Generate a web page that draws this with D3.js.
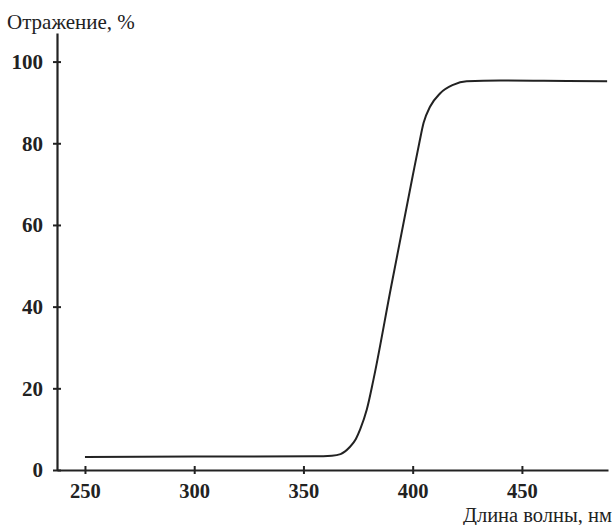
<!DOCTYPE html>
<html><head><meta charset="utf-8">
<script src="https://cdn.jsdelivr.net/npm/d3@7"></script>
<style>body{margin:0;background:#fff}svg{display:block}</style>
</head><body>
<svg id="c" width="614" height="525"></svg>
<script>
const wavelength = [250, 300, 355, 363, 367, 371, 374, 376, 379, 382, 390, 400, 403, 405, 408, 412.5, 418.5, 424.7, 440, 460, 489];
const reflectance = [3.2, 3.3, 3.35, 3.5, 3.9, 5.5, 7.6, 10, 14.8, 22, 44.5, 72, 80, 85, 89, 92.2, 94.3, 95.2, 95.4, 95.3, 95.2];
const xTicks = [250, 300, 350, 400, 450];
const yTicks = [0, 20, 40, 60, 80, 100];
const yTitle = "Отражение, %";
const xTitle = "Длина волны, нм";

const svg = d3.select("#c");
const x = d3.scaleLinear().domain([237.2, 489.4]).range([57, 608]);
const y = d3.scaleLinear().domain([0, 107]).range([470, 33]);
const ink = "#222";

const gx = svg.append("g").attr("transform", `translate(0,${y(0)})`)
  .call(d3.axisBottom(x).tickValues(xTicks).tickSize(4).tickSizeOuter(0).tickPadding(9));
gx.select(".domain").attr("stroke", ink).attr("stroke-width", 2);
gx.selectAll(".tick line").attr("stroke", ink).attr("stroke-width", 2).attr("y1", -4).attr("y2", 4);
gx.selectAll(".tick text").attr("font-family", "Liberation Serif").attr("font-weight", "bold")
  .attr("font-size", 20.5).attr("fill", ink);

const gy = svg.append("g").attr("transform", `translate(${x(237.2)},0)`)
  .call(d3.axisLeft(y).tickValues(yTicks).tickSize(4).tickSizeOuter(0).tickPadding(10));
gy.select(".domain").attr("stroke", ink).attr("stroke-width", 2.2);
gy.selectAll(".tick line").attr("stroke", ink).attr("stroke-width", 2).attr("x1", -4).attr("x2", 4);
gy.selectAll(".tick text").attr("font-family", "Liberation Serif").attr("font-weight", "bold")
  .attr("font-size", 21).attr("fill", ink);

const data = wavelength.map((w, i) => [w, reflectance[i]]);
svg.append("path").datum(data)
  .attr("fill", "none").attr("stroke", ink).attr("stroke-width", 2)
  .attr("d", d3.line().x(d => x(d[0])).y(d => y(d[1])).curve(d3.curveMonotoneX));

svg.append("text").attr("x", 7).attr("y", 29).text(yTitle)
  .attr("font-family", "Liberation Serif").attr("font-size", 21).attr("fill", ink);
svg.append("text").attr("x", 612).attr("y", 522).attr("text-anchor", "end").text(xTitle)
  .attr("font-family", "Liberation Serif").attr("font-size", 20.5).attr("fill", ink);
</script>
</body></html>
